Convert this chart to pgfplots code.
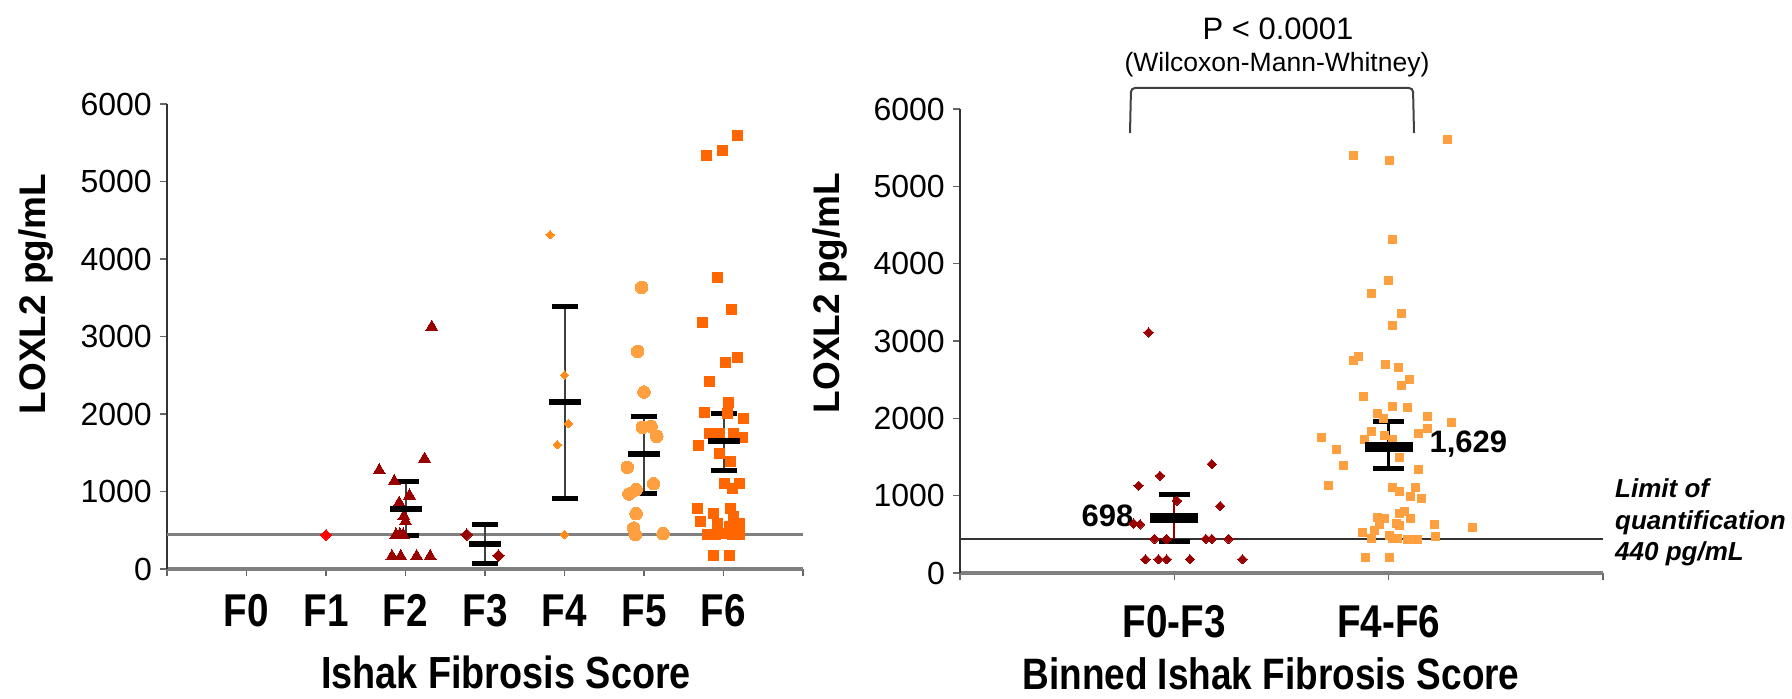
\documentclass[border=0pt]{standalone}
\usepackage{pgfplots}
\pgfplotsset{compat=1.18}
\usepackage{fontspec}
\setmainfont{Liberation Sans}
\newfontfamily\condb[FakeStretch=0.84]{Liberation Sans}
\definecolor{dred}{HTML}{990000}
\definecolor{fred}{HTML}{FF0000}
\definecolor{ofour}{HTML}{FF8C1A}
\definecolor{ofive}{HTML}{FFA040}
\definecolor{osix}{HTML}{FF6600}
\definecolor{olight}{HTML}{FFA040}
\definecolor{axgray}{HTML}{808080}

\pgfplotsset{
  panel/.style={
    scale only axis, clip=false,
    axis x line=bottom, axis y line=left,
    x axis line style={-, draw=axgray, line width=4pt},
    y axis line style={-, draw=black!80, line width=2pt},
    tick align=outside, major tick length=7pt,
    tick style={draw=black!60, line width=1.5pt},
    ymin=0, ymax=6000, ytick={0,1000,2000,3000,4000,5000,6000},
    yticklabels={\raisebox{-9pt}{0},1000,2000,3000,4000,5000,6000},
    yticklabel style={font=\fontsize{32}{36}\selectfont, text=black, inner sep=0pt, xshift=-8pt},
  },
  errb/.style={draw=none, mark=none,
    error bars/.cd, y dir=both, y explicit, error mark=|,
    error bar style={line width=2pt, draw=black!75},
    error mark options={draw=black, line width=5pt, mark size=13pt}},
}

\begin{document}
\begin{tikzpicture}
% ---------------- left panel ----------------
\begin{axis}[panel, at={(167pt,130pt)}, anchor=south west, width=636pt, height=465pt,
  xmin=-1, xmax=7, xtick={-1,0,1,2,3,4,5,6,7}, xticklabels={,F0,F1,F2,F3,F4,F5,F6,},
  xticklabel style={font=\condb\bfseries\fontsize{46}{50}\selectfont, anchor=base, inner sep=0pt, yshift=-50pt}]
\addplot[draw=axgray, line width=3pt, no marks] coordinates {(-1,440) (7,440)};
% F1
\addplot[only marks, color=fred, mark=square*, mark size=3.8pt, mark options={rotate=45, line width=0pt}] coordinates {(1,440)};
% F2
\addplot[only marks, color=dred, mark=triangle*, mark size=7pt, mark options={line width=0pt}] coordinates {
(2.33,3122) (2.24,1419) (1.67,1273) (1.86,1131) (2.05,946) (1.92,851) (1.98,679) (2.00,615)
(1.88,440) (1.93,445) (1.97,440) (1.83,163) (1.94,163) (2.14,163) (2.31,163)};
% F3
\addplot[only marks, color=dred, mark=square*, mark size=4.1pt, mark options={rotate=45, line width=0pt}] coordinates {(2.77,443) (3.17,172)};
% F4
\addplot[only marks, color=ofour, mark=square*, mark size=3pt, mark options={rotate=45, line width=0pt}] coordinates {
(3.82,4313) (4.00,2503) (4.05,1875) (3.91,1604) (4.00,443)};
% F5
\addplot[only marks, color=ofive, mark=*, mark size=6.3pt, mark options={line width=0pt}] coordinates {
(4.97,3634) (4.92,2808) (5.00,2283) (4.98,1828) (5.09,1840) (5.16,1711) (4.79,1312) (5.12,1101)
(4.81,968) (4.90,1023) (4.90,714) (4.87,529) (4.89,443) (5.24,456)};
% F6
\addplot[only marks, color=osix, mark=square*, mark size=5pt, mark options={line width=0pt}] coordinates {
(6.18,5594) (5.79,5337) (5.99,5401) (5.92,3767) (6.10,3345) (5.74,3187) (6.18,2735) (6.03,2666)
(5.83,2421) (6.06,2142) (5.76,2021) (6.25,1948) (6.05,2012) (5.69,1596) (5.82,1742) (5.95,1754)
(6.13,1754) (6.24,1703) (5.95,1496) (6.09,1389) (6.01,1109) (6.20,1109) (6.11,1045) (5.67,787)
(5.71,615) (5.88,722) (6.09,787) (6.13,679) (5.92,593) (6.20,593) (5.80,443) (5.90,443)
(6.00,464) (6.11,443) (6.20,443) (6.07,550) (5.88,172) (6.07,172)};
% error bars
\addplot[errb] coordinates {
(2,778) += (0,353) -= (0,344)
(3,327) += (0,253) -= (0,250)
(4,2154) += (0,1239) -= (0,1242)
(5,1484) += (0,485) -= (0,504)
(6,1647) += (0,357) -= (0,374)};
\addplot[only marks, color=black, mark=-, mark size=16pt, mark options={line width=6pt}] coordinates {
(2,778) (3,327) (4,2154) (5,1484) (6,1647)};
\end{axis}

% ---------------- right panel ----------------
\begin{axis}[panel, at={(960pt,126pt)}, anchor=south west, width=643pt, height=464pt,
  xmin=-1, xmax=2, xtick={-1,0,1,2}, xticklabels={,F0-F3,F4-F6,},
  xticklabel style={font=\condb\bfseries\fontsize{46}{50}\selectfont, anchor=base, inner sep=0pt, yshift=-57pt}]
\addplot[draw=black!80, line width=2pt, no marks] coordinates {(-1,440) (2,440)};
\addplot[only marks, color=dred, mark=square*, mark size=3.3pt, mark options={rotate=45, line width=0pt}] coordinates {
(-0.120,3112) (0.175,1409) (-0.067,1258) (-0.167,1129) (0.214,866) (0.012,935) (-0.160,629) (-0.190,640)
(-0.093,440) (-0.036,440) (0.147,440) (0.175,440) (0.253,440)
(-0.135,177) (-0.074,177) (-0.036,177) (0.073,177) (0.318,177)};
\addplot[only marks, color=olight, mark=square*, mark size=4pt, mark options={line width=0pt}] coordinates {
(1.273,5607) (0.834,5405) (1.003,5331) (1.020,4306) (1.000,3788) (0.921,3616) (1.059,3357) (1.020,3202)
(0.834,2745) (0.857,2806) (0.983,2702) (1.048,2659) (1.096,2508) (1.059,2431) (0.884,2280) (1.020,2159)
(1.087,2142) (0.946,2064) (1.183,2030) (0.974,2000) (1.291,1944) (1.183,1871) (0.919,1836) (1.141,1806)
(0.687,1750) (0.888,1728) (0.981,1784) (0.757,1599) (1.020,1720) (1.051,1496) (0.791,1388) (1.141,1340)
(0.719,1129) (1.020,1108) (1.051,1052) (1.124,1108) (1.102,987) (1.152,957) (1.051,771) (1.074,793)
(1.102,707) (0.950,720) (0.981,707) (0.958,621) (1.036,634) (1.051,608) (0.935,556) (1.214,621)
(1.392,590) (0.876,522) (0.919,448) (1.005,491) (1.020,448) (1.043,448) (1.090,435) (1.113,435)
(1.133,435) (1.217,470) (0.891,198) (1.003,198)};
\addplot[draw=none, mark=none, error bars/.cd, y dir=both, y explicit, error mark=|,
  error bar style={line width=2pt, draw=dred},
  error mark options={draw=black, line width=5pt, mark size=15.5pt}] coordinates {(0,705) += (0,304) -= (0,304)};
\addplot[draw=none, mark=none, error bars/.cd, y dir=both, y explicit, error mark=|,
  error bar style={line width=2.5pt, draw=black},
  error mark options={draw=black, line width=5pt, mark size=15.5pt}] coordinates {(1,1635) += (0,330) -= (0,290)};
\addplot[only marks, color=black, mark=-, mark size=24pt, mark options={line width=10pt}] coordinates {(0,705) (1,1635)};
\node[anchor=base east, font=\bfseries\fontsize{31}{36}\selectfont, inner sep=0pt] at (axis cs:-0.19,595) {698};
\node[anchor=base west, font=\bfseries\fontsize{31}{36}\selectfont, inner sep=0pt] at (axis cs:1.19,1552) {1,629};
\end{axis}

% ---------------- labels and annotations ----------------
\node[rotate=90, anchor=base, inner sep=0pt, font=\bfseries\fontsize{37}{40}\selectfont] at (45pt,405pt) {LOXL2 pg/mL};
\node[rotate=90, anchor=base, inner sep=0pt, font=\bfseries\fontsize{37}{40}\selectfont] at (839pt,406pt) {LOXL2 pg/mL};
\node[anchor=base, inner sep=0pt, font=\condb\bfseries\fontsize{45}{50}\selectfont] at (506pt,10pt) {Ishak Fibrosis Score};
\node[anchor=base, inner sep=0pt, font=\condb\bfseries\fontsize{44}{50}\selectfont] at (1271pt,9pt) {Binned Ishak Fibrosis Score};
\node[anchor=base, inner sep=0pt, font=\fontsize{31}{36}\selectfont] at (1278pt,659pt) {P < 0.0001};
\node[anchor=base, inner sep=0pt, font=\fontsize{26.5}{30}\selectfont] at (1277pt,627pt) {(Wilcoxon-Mann-Whitney)};
\draw[black!75, line width=2pt, rounded corners=4pt] (1130pt,566pt) -- (1131pt,611pt) -- (1413pt,611pt) -- (1414pt,566pt);
\node[anchor=base west, inner sep=0pt, font=\bfseries\itshape\fontsize{26}{30}\selectfont] at (1615pt,201pt) {Limit of};
\node[anchor=base west, inner sep=0pt, font=\bfseries\itshape\fontsize{26}{30}\selectfont] at (1615pt,169pt) {quantification};
\node[anchor=base west, inner sep=0pt, font=\bfseries\itshape\fontsize{26}{30}\selectfont] at (1615pt,138pt) {440 pg/mL};
\pgfresetboundingbox
\useasboundingbox (0pt,0pt) rectangle (1792pt,699pt);
\end{tikzpicture}
\end{document}
